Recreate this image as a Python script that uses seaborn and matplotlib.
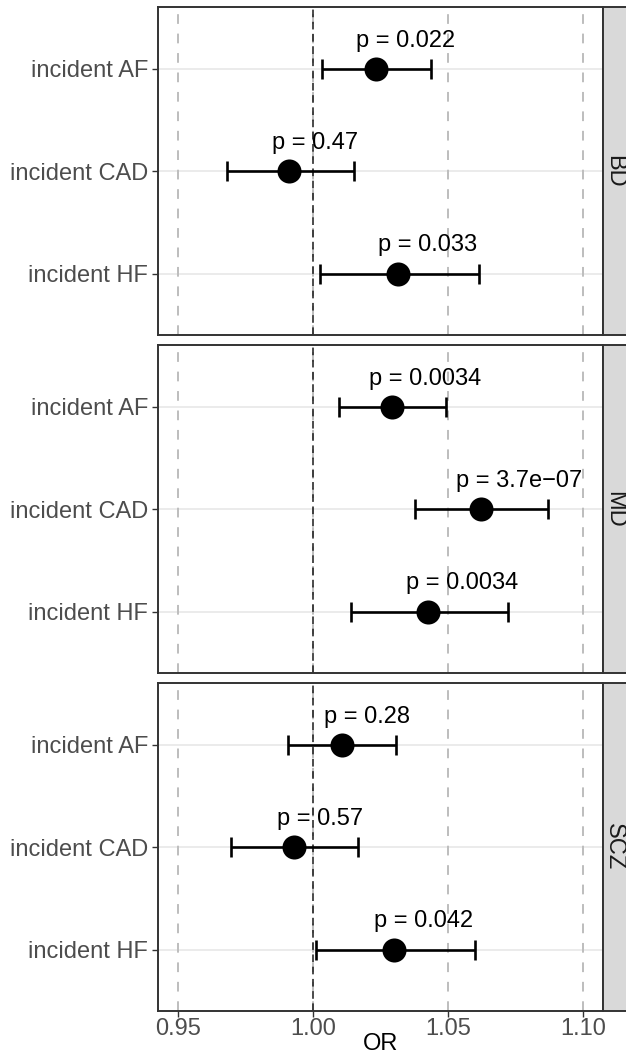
import pandas as pd
import matplotlib
matplotlib.use('Agg')
import matplotlib.pyplot as plt
import seaborn as sns

# data
outcomes = ['incident AF', 'incident CAD', 'incident HF']
disorders = ['BD', 'MD', 'SCZ']

or_bd = [1.0232, 0.9912, 1.0314]
lo_bd = [1.0032, 0.9680, 1.0026]
hi_bd = [1.0436, 1.0152, 1.0615]
p_bd = ['0.022', '0.47', '0.033']

or_md = [1.0291, 1.0622, 1.0427]
lo_md = [1.0096, 1.0378, 1.0140]
hi_md = [1.0493, 1.0872, 1.0723]
p_md = ['0.0034', '3.7e\u221207', '0.0034']

or_scz = [1.0106, 0.9930, 1.0301]
lo_scz = [0.9909, 0.9697, 1.0010]
hi_scz = [1.0307, 1.0168, 1.0600]
p_scz = ['0.28', '0.57', '0.042']

xticks = [0.95, 1.00, 1.05, 1.10]
xtick_labels = ['0.95', '1.00', '1.05', '1.10']

rows = []
for d, ors, los, his, ps in zip(disorders,
                                [or_bd, or_md, or_scz],
                                [lo_bd, lo_md, lo_scz],
                                [hi_bd, hi_md, hi_scz],
                                [p_bd, p_md, p_scz]):
    for i, o in enumerate(outcomes):
        rows.append({'disorder': d, 'outcome': o, 'ypos': i,
                     'OR': ors[i], 'lo': los[i], 'hi': his[i], 'p': ps[i]})
df = pd.DataFrame(rows)

sns.set_style('white')
plt.rcParams['font.family'] = ['Liberation Sans', 'DejaVu Sans']

W, H = 626, 1055
fig = plt.figure(figsize=(W / 100, H / 100), dpi=100)

left, right = 158, 603
panels = [(7, 335), (345, 673), (683, 1011)]
fs = 17
labels = []

for k, d in enumerate(disorders):
    top, bot = panels[k]
    ax = fig.add_axes([left / W, 1 - bot / H, (right - left) / W, (bot - top) / H])
    sub = df[df.disorder == d]

    # grid lines
    for yy in range(3):
        ax.axhline(yy, color='#EBEBEB', lw=1.4, zorder=0)
    for xx in xticks:
        ax.axvline(xx, color='#BDBDBD', lw=1.4, dashes=(5, 5), zorder=0.5)
    ax.axvline(1.0, color='#1A1A1A', lw=1.1, dashes=(5, 3), zorder=1)

    ax.errorbar(sub['OR'], sub['ypos'],
                xerr=[sub['OR'] - sub['lo'], sub['hi'] - sub['OR']],
                fmt='none', ecolor='black', elinewidth=1.9, capsize=7.5,
                capthick=1.9, zorder=2)
    sns.scatterplot(data=sub, x='OR', y='ypos', color='black', s=300,
                    edgecolor='black', linewidth=0, legend=False, ax=ax, zorder=3)

    for _, r in sub.iterrows():
        t = ax.annotate('p = ' + r['p'], xy=(r['OR'], r['ypos']),
                        xytext=(0, 22), textcoords='offset pixels',
                        ha='left', va='baseline', fontsize=fs, color='black',
                        zorder=4)
        labels.append(t)

    ax.set_xlim(0.9426, 1.1074)
    ax.set_ylim(2.6, -0.6)
    ax.set_yticks(range(3))
    ax.set_yticklabels(outcomes)
    ax.set_xticks(xticks)
    ax.set_ylabel('')
    ax.tick_params(axis='y', length=4, width=1, color='#333333', pad=3,
                   labelsize=fs, labelcolor='#4D4D4D', left=True)
    if k == 2:
        ax.set_xticklabels(xtick_labels)
        ax.tick_params(axis='x', length=4, width=1, color='#333333', pad=1,
                       labelsize=fs, labelcolor='#4D4D4D', bottom=True)
        ax.set_xlabel('OR', fontsize=fs, color='black', labelpad=-5)
    else:
        ax.set_xticklabels([])
        ax.tick_params(axis='x', length=0)
        ax.set_xlabel('')
    for s in ax.spines.values():
        s.set_color('#333333')
        s.set_linewidth(1.4)
        s.set_visible(True)

    # facet strip on the right
    sax = fig.add_axes([right / W, 1 - bot / H, 40 / W, (bot - top) / H])
    sax.set_facecolor('#D9D9D9')
    sax.set_xticks([])
    sax.set_yticks([])
    for s in sax.spines.values():
        s.set_color('#333333')
        s.set_linewidth(1.4)
    fig.text(614 / W, 1 - (top + bot) / 2 / H, d, rotation=-90,
             ha='center', va='center', fontsize=fs, color='#1A1A1A')

# shift p labels so the point sits at about 20% of the text width
fig.canvas.draw()
for t in labels:
    w = t.get_window_extent().width
    t.xyann = (-0.2 * w, 22)

fig.savefig('out.png', dpi=100)
